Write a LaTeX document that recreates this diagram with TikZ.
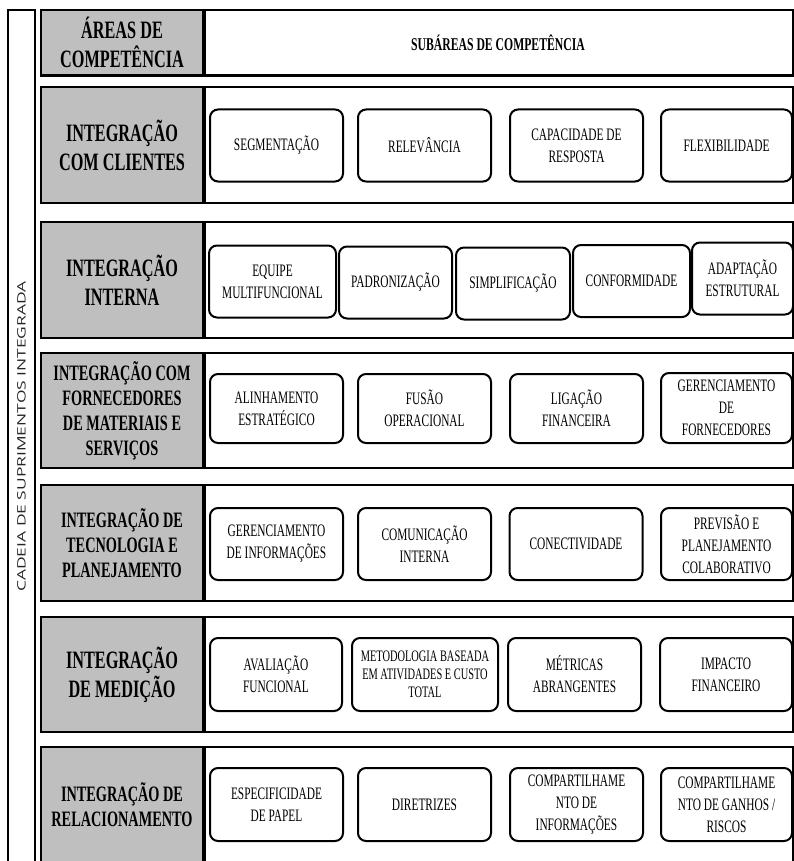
\documentclass[tikz,border=0pt]{standalone}
\usepackage{fontspec}
\setmainfont{Liberation Serif}[FakeStretch=0.65]
\newfontfamily\cadeiafont{Open Sans}
\usetikzlibrary{positioning}

\begin{document}
\begin{tikzpicture}[
  x=1pt, y=-1pt,
  faixa/.style={draw, line width=2.4pt, fill=white, minimum width=590pt,
                minimum height=116pt, align=center},
  area/.style={draw, line width=2.4pt, fill=black!25, minimum width=162pt,
               minimum height=116pt, align=center, inner sep=2pt,
               font=\fontsize{25}{29}\selectfont\bfseries},
  areap/.style={area, font=\fontsize{22}{25}\selectfont\bfseries},
  sub/.style={draw, line width=2pt, rounded corners=8pt, fill=white,
              minimum width=133pt, minimum height=72pt, align=center,
              inner sep=1pt, font=\fontsize{17.5}{22}\selectfont},
  barra/.style={draw, line width=1.6pt, minimum width=853pt, minimum height=27pt,
                text=black!85, font=\cadeiafont\fontsize{17.4}{20}\selectfont},
  div/.style={line width=3.5pt}
]
\clip (0,0) rectangle (794,861);

% coluna lateral
\node[barra, rotate=90] (cadeia) at (21.5,436.5)
  {\scalebox{1}[0.67]{CADEIA DE SUPRIMENTOS INTEGRADA}};

% faixas de cada area
\node[faixa, minimum height=65.5pt, font=\fontsize{18}{22}\selectfont\bfseries]
  (f0) at (498,42.75) {SUBÁREAS DE COMPETÊNCIA};
\node[faixa] (f1) at (498,145) {};
\node[faixa] (f2) at (498,280) {};
\node[faixa, minimum height=115pt] (f3) at (498,410.5) {};
\node[faixa] (f4) at (498,543) {};
\node[faixa, minimum height=115pt] (f5) at (498,674.5) {};
\node[faixa] (f6) at (498,805) {};

\node[area, minimum height=65.5pt] (a0) at (122,42.75) {ÁREAS DE\\COMPETÊNCIA};
\node[area] (a1) at (122,145) {INTEGRAÇÃO\\COM CLIENTES};
\node[area] (a2) at (122,280) {INTEGRAÇÃO\\INTERNA};
\node[areap, minimum height=115pt] (a3) at (122,410.5)
  {INTEGRAÇÃO COM\\FORNECEDORES\\DE MATERIAIS E\\SERVIÇOS};
\node[areap] (a4) at (122,543) {INTEGRAÇÃO DE\\TECNOLOGIA E\\PLANEJAMENTO};
\node[area, minimum height=115pt] (a5) at (122,674.5) {INTEGRAÇÃO\\DE MEDIÇÃO};
\node[areap] (a6) at (122,805) {INTEGRAÇÃO DE\\RELACIONAMENTO};

\foreach \a in {a0,a1,a2,a3,a4,a5,a6}
  \draw[div] (\a.north east) -- (\a.south east);

% subareas
\node[sub] (s11) at (276.5,145.5) {SEGMENTAÇÃO};
\node[sub] (s12) at (424.5,145.5) {RELEVÂNCIA};
\node[sub] (s13) at (576.5,145.5) {CAPACIDADE DE\\RESPOSTA};
\node[sub, minimum width=131pt] (s14) at (726.5,145.5) {FLEXIBILIDADE};

\node[sub, minimum width=127pt] (s21) at (272.5,281.5) {EQUIPE\\MULTIFUNCIONAL};
\node[sub, minimum width=113pt] (s22) at (395.5,282.5) {PADRONIZAÇÃO};
\node[sub, minimum width=114pt] (s23) at (513,283.5) {SIMPLIFICAÇÃO};
\node[sub, minimum width=117pt] (s24) at (631.5,281) {CONFORMIDADE};
\node[sub, minimum width=101pt] (s25) at (742.5,278.5) {ADAPTAÇÃO\\ESTRUTURAL};

\node[sub, minimum height=69pt] (s31) at (276.5,408.5) {ALINHAMENTO\\ESTRATÉGICO};
\node[sub, minimum height=69pt] (s32) at (424.5,408.5) {FUSÃO\\OPERACIONAL};
\node[sub, minimum height=69pt] (s33) at (576.5,408.5) {LIGAÇÃO\\FINANCEIRA};
\node[sub, minimum height=70pt, minimum width=131pt] (s34) at (726.5,408)
  {GERENCIAMENTO\\DE\\FORNECEDORES};

\node[sub] (s41) at (276.5,544) {GERENCIAMENTO\\DE INFORMAÇÕES};
\node[sub] (s42) at (424.5,544) {COMUNICAÇÃO\\INTERNA};
\node[sub] (s43) at (576,544) {CONECTIVIDADE};
\node[sub, minimum width=131pt] (s44) at (726.5,544) {PREVISÃO E\\PLANEJAMENTO\\COLABORATIVO};

\node[sub, minimum width=132pt, minimum height=73pt] (s51) at (276,674.5) {AVALIAÇÃO\\FUNCIONAL};
\node[sub, minimum width=146pt, minimum height=73pt, font=\fontsize{16}{18}\selectfont]
  (s52) at (425,674.5) {METODOLOGIA BASEADA\\EM ATIVIDADES E CUSTO\\TOTAL};
\node[sub, minimum height=73pt] (s53) at (574.5,674.5) {MÉTRICAS\\ABRANGENTES};
\node[sub, minimum width=132pt, minimum height=73pt] (s54) at (726,674.5) {IMPACTO\\FINANCEIRO};

\node[sub, minimum height=73pt] (s61) at (276.5,804.5) {ESPECIFICIDADE\\DE PAPEL};
\node[sub, minimum height=73pt] (s62) at (424.5,804.5) {DIRETRIZES};
\node[sub, minimum height=73pt] (s63) at (576.5,804.5) {COMPARTILHAME\\NTO DE\\INFORMAÇÕES};
\node[sub, minimum width=131pt, minimum height=73pt] (s64) at (726.5,804.5)
  {COMPARTILHAME\\NTO DE GANHOS /\\RISCOS};
\end{tikzpicture}
\end{document}
